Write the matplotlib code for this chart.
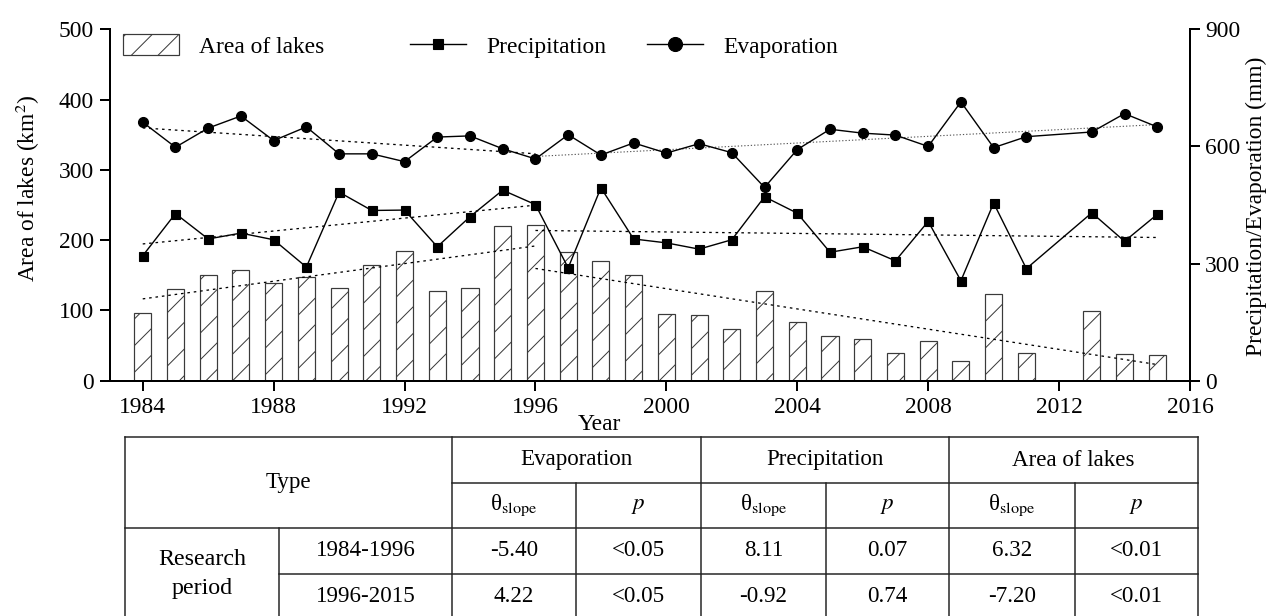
import numpy as np
import matplotlib
matplotlib.use("Agg")
import matplotlib.pyplot as plt
from matplotlib.patches import Patch
from matplotlib.lines import Line2D

DPI = 80


def pt(px):
    return px * 72.0 / DPI


plt.rcParams['font.family'] = ['Liberation Serif', 'DejaVu Serif']
plt.rcParams['mathtext.fontset'] = 'stix'
plt.rcParams['hatch.linewidth'] = pt(1.0)

# ---------------- data ----------------
years = [1984, 1985, 1986, 1987, 1988, 1989, 1990, 1991, 1992, 1993, 1994,
         1995, 1996, 1997, 1998, 1999, 2000, 2001, 2002, 2003, 2004, 2005,
         2006, 2007, 2008, 2009, 2010, 2011, 2013, 2014, 2015]
lake_area = [97, 130, 150, 157, 139, 148, 132, 165, 184, 128, 132,
             220, 221, 183, 171, 151, 95, 93, 73, 127, 84, 64,
             59, 40, 57, 28, 123, 39, 99, 38, 37]
precipitation = [320, 428, 363, 378, 361, 291, 483, 436, 437, 343, 420,
                 488, 451, 289, 494, 363, 353, 337, 361, 471, 429, 329,
                 343, 307, 408, 256, 455, 287, 430, 357, 426]
evaporation = [662, 598, 647, 678, 615, 650, 581, 581, 561, 624, 627,
               594, 568, 630, 578, 609, 583, 607, 584, 495, 592, 644,
               634, 629, 600, 714, 597, 625, 637, 684, 650]

periods = ['1984-1996', '1996-2015']
table_groups = ['Evaporation', 'Precipitation', 'Area of lakes']
slope_vals = [['-5.40', '8.11', '6.32'], ['4.22', '-0.92', '-7.20']]
p_vals = [['<0.05', '0.07', '<0.01'], ['<0.05', '0.74', '<0.01']]

years_a = np.array(years, dtype=float)


def trend_line(x, y, x0, x1):
    x = np.asarray(x, float)
    y = np.asarray(y, float)
    m = (x >= x0) & (x <= x1)
    b, a = np.polyfit(x[m], y[m], 1)
    xx = np.array([x0, x1], float)
    return xx, a + b * xx


W, H = 1269, 616
fig = plt.figure(figsize=(W / DPI, H / DPI), dpi=DPI)
ax = fig.add_axes([110 / W, 1 - 380.7 / H, (1190 - 110) / W, (380.7 - 29.3) / H])
ax2 = ax.twinx()

FS = pt(23.5)
LW = pt(1.4)
DOT = (0, (pt(2.2), pt(3.3)))

ax.bar(years, lake_area, width=0.52, facecolor='white', edgecolor='#3a3a3a',
       linewidth=pt(1.2), hatch='/', zorder=2)
for seg in [(1984, 1996), (1996, 2015)]:
    xx, yy = trend_line(years_a, lake_area, *seg)
    ax.plot(xx, yy, color='black', lw=pt(1.3), ls=DOT, zorder=3)

ax2.plot(years, precipitation, color='black', lw=LW, marker='s', ms=pt(9), zorder=4)
ax2.plot(years, evaporation, color='black', lw=LW, marker='o', ms=pt(10), zorder=4)
for seg in [(1984, 1996), (1996, 2015)]:
    xx, yy = trend_line(years_a, precipitation, *seg)
    ax2.plot(xx, yy, color='black', lw=pt(1.3), ls=DOT, zorder=3)
xx, yy = trend_line(years_a, evaporation, 1984, 1996)
ax2.plot(xx, yy, color='black', lw=pt(1.3), ls=DOT, zorder=3)
xx, yy = trend_line(years_a, evaporation, 1996, 2015)
ax2.plot(xx, yy, color='#555555', lw=pt(1.1), ls=(0, (pt(1.3), pt(2))), zorder=3)

ax.set_xlim(1983, 2016)
ax.set_ylim(0, 500)
ax2.set_ylim(0, 900)
ax.set_xticks(range(1984, 2017, 4))
ax.set_yticks(range(0, 501, 100))
ax2.set_yticks([0, 300, 600, 900])

for a in (ax, ax2):
    a.spines['top'].set_visible(False)
    for s in a.spines.values():
        s.set_linewidth(pt(2))
ax.spines['right'].set_visible(False)
ax2.spines['left'].set_visible(False)
ax2.spines['bottom'].set_visible(False)

ax.tick_params(axis='both', direction='out', length=pt(10), width=pt(2), labelsize=FS)
ax.tick_params(axis='y', pad=pt(6))
ax.tick_params(axis='x', pad=pt(6))
ax2.tick_params(axis='y', direction='out', length=pt(10), width=pt(2), labelsize=FS,
                pad=pt(5))

fig.text(28 / W, 1 - 188 / H, 'Area of lakes (km$^2$)', rotation=90,
         ha='center', va='center', fontsize=FS)
fig.text(1256 / W, 1 - 206 / H, 'Precipitation/Evaporation (mm)', rotation=90,
         ha='center', va='center', fontsize=FS)
fig.text(599 / W, 1 - 424 / H, 'Year', ha='center', va='center', fontsize=FS)

# legends
ly = 1 - 46 / H
h_area = Patch(facecolor='white', edgecolor='#3a3a3a', hatch='/', linewidth=pt(1.2))
h_prec = Line2D([], [], color='black', lw=LW, marker='s', ms=pt(10.5))
h_evap = Line2D([], [], color='black', lw=LW, marker='o', ms=pt(14))
for h, lab, x0 in [(h_area, 'Area of lakes', 123), (h_prec, 'Precipitation', 410),
                   (h_evap, 'Evaporation', 647)]:
    fig.legend([h], [lab], loc='center left', bbox_to_anchor=(x0 / W, ly),
               frameon=False, fontsize=FS, handlelength=56 / 23.5, handleheight=0.95,
               handletextpad=0.85, borderpad=0, borderaxespad=0)

# ---------------- table ----------------
tax = fig.add_axes([0, 0, 1, 1])
tax.set_xlim(0, W)
tax.set_ylim(H, 0)
tax.axis('off')
tax.patch.set_alpha(0)

L, C1, C2 = 125, 279, 452
gx = [452, 576, 701, 826, 949, 1075, 1198]
rows = [437, 483, 528, 574, 620]
kw = dict(color='#222222', lw=pt(1.5), solid_capstyle='projecting')
tax.plot([L, gx[-1]], [rows[0], rows[0]], **kw)
tax.plot([C2, gx[-1]], [rows[1], rows[1]], **kw)
tax.plot([L, gx[-1]], [rows[2], rows[2]], **kw)
tax.plot([C1, gx[-1]], [rows[3], rows[3]], **kw)
tax.plot([L, L], [rows[0], rows[4]], **kw)
tax.plot([C1, C1], [rows[2], rows[4]], **kw)
for i, x in enumerate(gx):
    top = rows[0] if i % 2 == 0 else rows[1]
    tax.plot([x, x], [top, rows[4]], **kw)

tfs = pt(23)
tax.text((L + C2) / 2, (rows[0] + rows[2]) / 2, 'Type', ha='center', va='center', fontsize=tfs)
tax.text((L + C1) / 2, (rows[2] + rows[4]) / 2, 'Research\nperiod', ha='center',
         va='center', fontsize=pt(24), linespacing=1.55)
for k, g in enumerate(table_groups):
    x0, xm, x1 = gx[2 * k], gx[2 * k + 1], gx[2 * k + 2]
    tax.text((x0 + x1) / 2, (rows[0] + rows[1]) / 2, g, ha='center', va='center', fontsize=tfs)
    tax.text((x0 + xm) / 2, (rows[1] + rows[2]) / 2, 'θ$_{\\mathrm{slope}}$',
             ha='center', va='center', fontsize=tfs)
    tax.text((xm + x1) / 2, (rows[1] + rows[2]) / 2, r'$p$', ha='center', va='center',
             fontsize=tfs)
    for r in range(2):
        yc = (rows[2 + r] + rows[3 + r]) / 2
        tax.text((x0 + xm) / 2, yc, slope_vals[r][k], ha='center', va='center', fontsize=tfs)
        tax.text((xm + x1) / 2, yc, p_vals[r][k], ha='center', va='center', fontsize=tfs)
for r, per in enumerate(periods):
    yc = (rows[2 + r] + rows[3 + r]) / 2
    tax.text((C1 + C2) / 2, yc, per, ha='center', va='center', fontsize=tfs)

fig.savefig('out.png', dpi=DPI)
